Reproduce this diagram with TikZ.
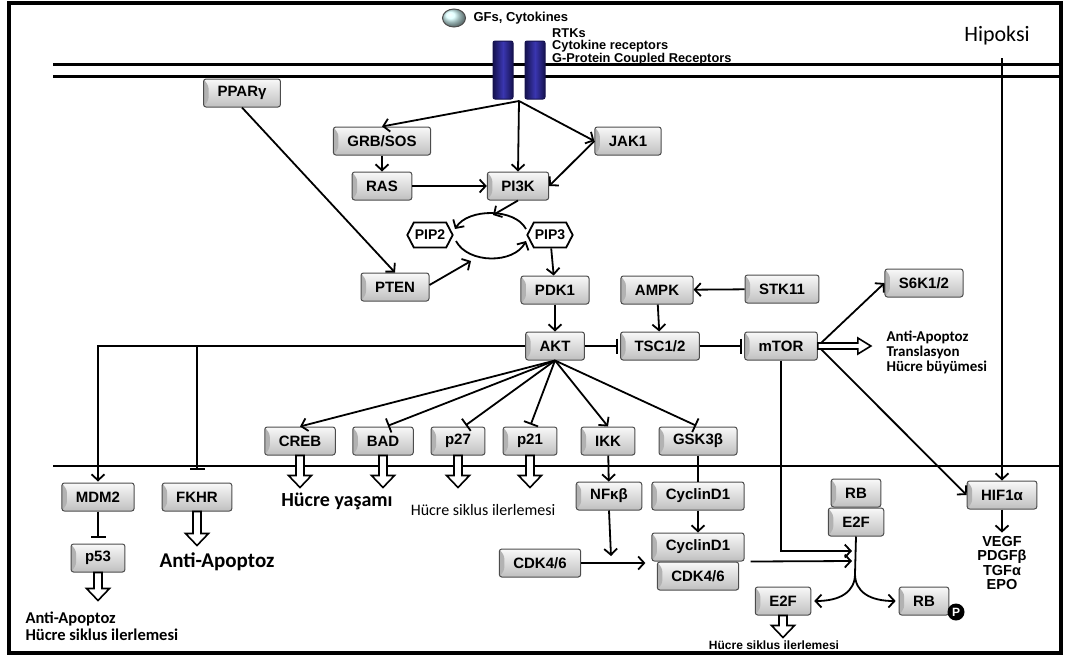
\documentclass[tikz,border=0pt]{standalone}
\usepackage{fontspec}
\setmainfont{Liberation Sans}
\newfontfamily\calfont{Carlito}
\usetikzlibrary{arrows.meta,positioning,shapes.geometric,shapes.symbols}
\definecolor{recb}{HTML}{3A36B0}
\definecolor{recd}{HTML}{15124F}
\newcommand\hollowdown[2]{\draw[fat] (#1) ++(-4,0) -- ++(0,#2-12) -- ++(-7.5,0) -- ++(11.5,12) -- ++(11.5,-12) -- ++(-7.5,0) -- ++(0,12-#2) -- cycle;}

\begin{document}
\begin{tikzpicture}[x=1pt,y=-1pt,
  prot/.style={draw=black!70,line width=1pt,rounded corners=2.5pt,top color=gray!5,bottom color=gray!50,
    minimum height=28pt,inner xsep=14pt,inner ysep=2pt,font=\fontsize{15}{17}\selectfont\bfseries,
    path picture={\fill[gray!60] (path picture bounding box.north west) -- ++(5pt,-7pt)
      -- ([xshift=5pt,yshift=7pt]path picture bounding box.south west) -- (path picture bounding box.south west) -- cycle;}},
  lipid/.style={signal,signal to=east and west,signal pointer angle=125,draw,line width=1.8pt,fill=white,
    inner xsep=1pt,minimum height=25pt,font=\fontsize{14}{16}\selectfont\bfseries},
  rec/.style={draw=recd,line width=1pt,rounded corners=2pt,left color=recd,right color=recd,middle color=recb,
    minimum width=20pt,minimum height=58pt,inner sep=0pt},
  act/.style={line width=1.8pt,-{Straight Barb[length=6pt,width=13pt,line width=1.8pt]}},
  inh/.style={line width=1.8pt,-{Bar[width=15pt,line width=1.8pt]},shorten >=2pt},
  fat/.style={draw,fill=white,line width=1.6pt,line join=miter},
  txt/.style={font=\calfont\bfseries\fontsize{15}{15}\selectfont,align=left,anchor=west}]
\useasboundingbox (0,0) rectangle (1069,657);
\draw[line width=3.5pt] (9,3) rectangle (1061,653);
\draw[line width=3pt] (53,64) -- (1060,64) (53,76) -- (1060,76);
\draw[line width=2.5pt] (53,466) -- (1060,466);

\node[rec](r1) at (503,70) {};\node[rec](r2) at (535,70) {};
\coordinate (rc) at (519,101);
\node[draw=black!70,line width=1pt,ellipse,ball color=cyan!15,minimum width=23pt,minimum height=18pt,inner sep=0pt](gf) at (454,18) {};
\node[font=\fontsize{13}{14}\selectfont\bfseries,right=4pt of gf](gft) {GFs, Cytokines};
\node[font=\fontsize{12.8}{12.5}\selectfont\bfseries,align=left,anchor=north west,inner sep=0pt](rtk) at (552,28)
  {RTKs\\Cytokine receptors\\G-Protein Coupled Receptors};
\node[font=\calfont\fontsize{22}{22}\selectfont](hip) at (997,36) {Hipoksi};
\coordinate (hipo) at (1002,58);

\node[prot](ppar) at (242,93) {PPARγ};
\node[prot](grb) at (382,141) {GRB/SOS};\node[prot](jak) at (628,141) {JAK1};
\node[prot](ras) at (382,186) {RAS};\node[prot](pi3k) at (518,186) {PI3K};
\node[lipid](pip2) at (430,235) {PIP2};\node[lipid](pip3) at (550,235) {PIP3};
\node[prot](pten) at (395,287) {PTEN};\node[prot](pdk) at (555,290) {PDK1};
\node[prot](ampk) at (657,290) {AMPK};\node[prot](stk) at (782,289) {STK11};
\node[prot](s6k) at (924,283) {S6K1/2};
\node[prot](akt) at (555,346) {AKT};\node[prot](tsc) at (660,346) {TSC1/2};
\node[prot](mtor) at (781,346) {mTOR};
\node[prot](creb) at (300,441) {CREB};\node[prot](bad) at (383,441) {BAD};
\node[prot](p27) at (458,441) {p27};\node[prot](p21) at (530,441) {p21};
\node[prot](ikk) at (608,441) {IKK};\node[prot](gsk) at (698,441) {GSK3β};
\node[prot](mdm) at (98,497) {MDM2};\node[prot](fkhr) at (197,497) {FKHR};
\node[prot](p53) at (98,558) {p53};
\node[prot](nfkb) at (609,496) {NFκβ};\node[prot](cyc) at (698,496) {CyclinD1};
\node[prot](cdk) at (540,563) {CDK4/6};
\node[prot](cyc2) at (698,547) {CyclinD1};\node[prot,below=0pt of cyc2](cdk2) {CDK4/6};
\node[prot](rb) at (856,493) {RB};\node[prot,below=0pt of rb](e2f) {E2F};
\node[prot](e2fb) at (783,601) {E2F};\node[prot](rbp) at (924,601) {RB};
\node[circle,fill=black,text=white,font=\fontsize{12}{12}\selectfont\bfseries,inner sep=0pt,minimum size=17pt](ph) at (956,612) {P};
\node[prot](hif) at (1002,495) {HIF1α};

\node[font=\calfont\bfseries\fontsize{20}{20}\selectfont](surv) at (337,501) {Hücre yaşamı};
\node[font=\calfont\fontsize{16}{16}\selectfont](cyc1t) at (483,510) {Hücre siklus ilerlemesi};
\node[font=\calfont\bfseries\fontsize{21}{21}\selectfont](apo1) at (217,562) {Anti-Apoptoz};
\node[font=\calfont\bfseries\fontsize{16.5}{17}\selectfont,align=left,anchor=west](apo2) at (22,626) {Anti-Apoptoz\\Hücre siklus ilerlemesi};
\node[txt](mtt) at (883,352) {Anti-Apoptoz\\Translasyon\\Hücre büyümesi};
\node[font=\fontsize{14.5}{14.5}\selectfont\bfseries,align=center](vegf) at (1002,563) {VEGF\\PDGFβ\\TGFα\\EPO};
\node[font=\fontsize{12}{12}\selectfont\bfseries](cyc2t) at (774,645) {Hücre siklus ilerlemesi};

\draw[act] (rc) -- (grb.north);\draw[act] (rc) -- (pi3k.north);\draw[act] (rc) -- (jak.west);
\draw[act] (jak.west) -- (pi3k.east);\draw[act] (grb) -- (ras);\draw[act] (ras) -- (pi3k);
\coordinate (ctop) at (493,215);\coordinate (cbot) at (471,261);
\draw[act] (pi3k.south) -- (ctop);
\draw[act] (526,229) .. controls (515,208) and (468,208) .. (455,229);
\draw[act] (456,241) .. controls (468,264) and (514,264) .. (526,241);
\draw[act] (ppar.south) -- (pten.north);\draw[act] ([yshift=2pt]pten.east) -- (cbot);
\draw[act] (pip3) -- (pdk);\draw[act] (pdk) -- (akt);
\draw[act] (stk) -- (ampk);\draw[act] (ampk) -- (tsc);
\draw[inh] (akt) -- (tsc);\draw[inh] (tsc) -- (mtor);
\draw[act] (mtor.east) -- (s6k.west);\draw[act] (mtor.east) -- (hif.west);
\draw[fat] (mtor.east) ++(0,-3) -- ++(40,0) -- ++(0,-5) -- ++(13,8) -- ++(-13,8) -- ++(0,-5) -- ++(-40,0) -- cycle;
\draw[act] (hipo) -- (hif.north);\draw[act] (hif) -- (vegf);
\draw[act] (akt.south) -- (creb.north);\draw[inh] (akt.south) -- ([xshift=3pt]bad.north);
\draw[inh] (akt.south) -- ([xshift=6pt]p27.north);\draw[inh] (akt.south) -- (p21.north);
\draw[act] (akt.south) -- (ikk.north);\draw[inh] (akt.south) -- (gsk.north);
\draw[act,shorten >=1pt] (akt.west) -| (mdm.north);
\draw[inh,shorten >=13pt] (akt.west -| fkhr.north) -- (fkhr.north);
\draw[inh,shorten >=6pt] (mdm) -- (p53);
\draw[line width=1.8pt] (gsk) -- (cyc);\draw[act] (cyc) -- (cyc2);
\draw[act] (ikk) -- (nfkb);
\coordinate (nfe) at (611,556);\draw[act] (nfkb.south) -- (nfe);
\draw[act,shorten >=6pt] (cdk) -- (cdk -| cyc2.west);
\coordinate (m1) at (852,551);\coordinate (m2) at (852,561);\coordinate (hub) at (855,574);
\draw[act] (mtor.south) |- (m1);\draw[act] ([xshift=6pt]cyc2.south east) -- (m2);
\draw[line width=1.8pt] (e2f.south) -- (hub);
\draw[act,shorten >=3pt] (hub) .. controls (855,592) and (840,601) .. (e2fb.east);
\draw[act,shorten >=3pt] (hub) .. controls (855,592) and (870,601) .. (rbp.west);
\hollowdown{creb.south}{32}\hollowdown{bad.south}{32}\hollowdown{p27.south}{32}\hollowdown{p21.south}{32}
\hollowdown{fkhr.south}{34}\hollowdown{p53.south}{28}\hollowdown{e2fb.south}{22}
\end{tikzpicture}
\end{document}
